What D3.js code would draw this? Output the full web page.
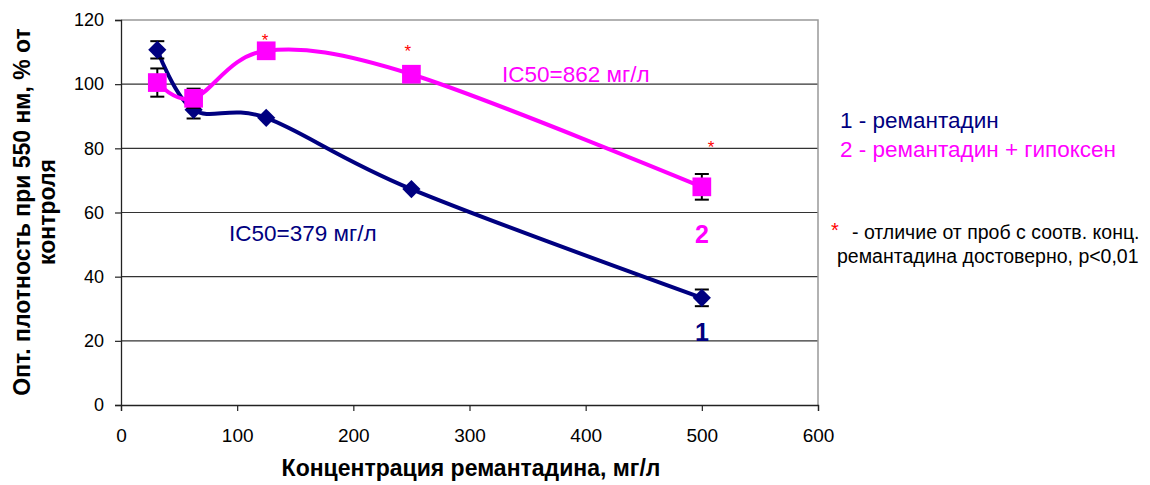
<!DOCTYPE html>
<html>
<head>
<meta charset="utf-8">
<script src="https://cdn.jsdelivr.net/npm/d3@7"></script>
<style>
  body { margin: 0; background: #fff; }
  svg { font-family: "Liberation Sans", Arial, sans-serif; }
</style>
</head>
<body>
<svg id="chart" width="1150" height="485"></svg>
<script>
// data
const conc = [31.25, 62.5, 125, 250, 500];
const rem = [110.7, 92, 89.5, 67.3, 33.4];
const remErr = [2.7, 2.7, 0, 0, 2.6];
const remHyp = [100.5, 95.6, 110.4, 103.1, 68];
const remHypErr = [4.4, 3, 0, 0, 4];
const starConc = [124, 247, 508];
const starVal = [114.6, 111.3, 81.4];
const xTicks = [0, 100, 200, 300, 400, 500, 600];
const yTicks = [0, 20, 40, 60, 80, 100, 120];

const navy = "#000080";
const magenta = "#ff00ff";

const svg = d3.select("#chart");
const margin = { left: 121, right: 332, top: 20, bottom: 80 };
const width = 1150, height = 485;

const x = d3.scaleLinear().domain([0, 600]).range([margin.left, width - margin.right]);
const y = d3.scaleLinear().domain([0, 120]).range([height - margin.bottom, margin.top]);

// gridlines
svg.append("g")
  .selectAll("line")
  .data(yTicks.filter((d) => d > 0 && d < 120))
  .join("line")
  .attr("x1", x(0)).attr("x2", x(600))
  .attr("y1", (d) => y(d)).attr("y2", (d) => y(d))
  .attr("stroke", "#333").attr("stroke-width", 1.2);

// top / right border
svg.append("path")
  .attr("d", `M${x(0)},${y(120)}H${x(600)}V${y(0)}`)
  .attr("fill", "none").attr("stroke", "#999").attr("stroke-width", 1.5);

// axes
const yAxis = svg.append("g")
  .attr("transform", `translate(${x(0)},0)`)
  .call(d3.axisLeft(y).tickValues(yTicks).tickSize(6).tickPadding(11));
const xAxis = svg.append("g")
  .attr("transform", `translate(0,${y(0)})`)
  .call(d3.axisBottom(x).tickValues(xTicks).tickSize(6).tickPadding(18));
[yAxis, xAxis].forEach((g) => {
  g.select(".domain").attr("stroke", "#222").attr("stroke-width", 1.3);
  g.selectAll(".tick line").attr("stroke", "#222").attr("stroke-width", 1.2);
  g.selectAll(".tick text").attr("fill", "#000")
    .attr("font-family", "Liberation Sans, Arial, sans-serif");
});
yAxis.selectAll(".tick text").attr("font-size", 18);
xAxis.selectAll(".tick text").attr("font-size", 19);

// smoothed lines
const line = d3.line()
  .x((d) => x(d[0]))
  .y((d) => y(d[1]))
  .curve(d3.curveCardinal.tension(0));

const drawSeries = (vals, errs, color, shape, size, rot) => {
  const pts = conc.map((c, i) => [c, vals[i], errs[i]]);
  svg.append("path")
    .datum(pts)
    .attr("fill", "none")
    .attr("stroke", color)
    .attr("stroke-width", 4)
    .attr("d", line);

  const eb = svg.append("g").attr("stroke", "#000").attr("stroke-width", 2);
  pts.filter((d) => d[2] > 0).forEach((d) => {
    const cx = x(d[0]);
    eb.append("line").attr("x1", cx).attr("x2", cx)
      .attr("y1", y(d[1] - d[2])).attr("y2", y(d[1] + d[2]));
    [d[1] - d[2], d[1] + d[2]].forEach((v) => {
      eb.append("line").attr("x1", cx - 7).attr("x2", cx + 7)
        .attr("y1", y(v)).attr("y2", y(v));
    });
  });

  svg.append("g")
    .selectAll("path")
    .data(pts)
    .join("path")
    .attr("transform", (d) => `translate(${x(d[0])},${y(d[1])}) rotate(${rot})`)
    .attr("d", d3.symbol().type(shape).size(size))
    .attr("fill", color);
};

drawSeries(rem, remErr, navy, d3.symbolSquare, 165, 45);
drawSeries(remHyp, remHypErr, magenta, d3.symbolSquare, 350, 0);

// significance stars
svg.append("g")
  .selectAll("text")
  .data(starConc.map((c, i) => [c, starVal[i]]))
  .join("text")
  .attr("x", (d) => x(d[0]))
  .attr("y", (d) => y(d[1]) + 9)
  .attr("text-anchor", "middle")
  .attr("font-size", 17)
  .attr("fill", "#ff0000")
  .text("*");

// annotations
svg.append("text").attr("x", 502).attr("y", 82)
  .attr("font-size", 22.5).attr("fill", magenta).text("IC50=862 мг/л");
svg.append("text").attr("x", 229).attr("y", 241)
  .attr("font-size", 22.5).attr("fill", navy).text("IC50=379 мг/л");
svg.append("text").attr("x", x(500)).attr("y", 243)
  .attr("text-anchor", "middle").attr("font-size", 25).attr("font-weight", "bold")
  .attr("fill", magenta).text("2");
svg.append("text").attr("x", x(500)).attr("y", 341)
  .attr("text-anchor", "middle").attr("font-size", 25).attr("font-weight", "bold")
  .attr("fill", navy).text("1");

// legend
svg.append("text").attr("x", 840).attr("y", 128)
  .attr("font-size", 22.5).attr("fill", navy).text("1 - ремантадин");
svg.append("text").attr("x", 840).attr("y", 157)
  .attr("font-size", 22.5).attr("fill", magenta).text("2 - ремантадин + гипоксен");

// footnote
svg.append("text").attr("x", 831).attr("y", 237)
  .attr("font-size", 20).attr("fill", "#ff0000").text("*");
svg.append("text").attr("x", 852).attr("y", 239)
  .attr("font-size", 19.5).attr("fill", "#000").text("- отличие от проб с соотв. конц.");
svg.append("text").attr("x", 837).attr("y", 263)
  .attr("font-size", 19.5).attr("fill", "#000").text("ремантадина достоверно, p<0,01");

// axis titles
svg.append("text")
  .attr("x", 471).attr("y", 476)
  .attr("text-anchor", "middle").attr("font-size", 23).attr("font-weight", "bold")
  .text("Концентрация ремантадина, мг/л");

const yTitle = svg.append("text")
  .attr("transform", "translate(30,212) rotate(-90)")
  .attr("text-anchor", "middle").attr("font-size", 23).attr("font-weight", "bold");
yTitle.append("tspan").attr("x", 0).attr("dy", 0).text("Опт. плотность при 550 нм, % от");
yTitle.append("tspan").attr("x", 0).attr("dy", 25).text("контроля");
</script>
</body>
</html>
